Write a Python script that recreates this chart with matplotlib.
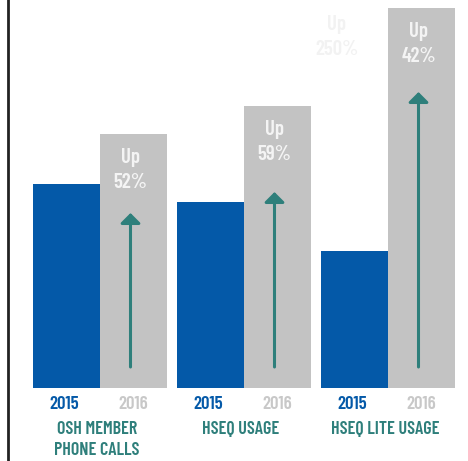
import matplotlib.pyplot as plt

categories = ["OSH MEMBER\nPHONE CALLS", "HSEQ USAGE", "HSEQ LITE USAGE"]
years = ["2015", "2016"]
values_2015 = [204, 186, 137]
values_2016 = [254, 282, 380]
arrow_tops = [175, 196, 296]
changes = ["Up\n52%", "Up\n59%", "Up\n42%"]

BLUE = "#0459A8"
GREY = "#C3C3C3"
TEAL = "#2E7F7B"
FONT = ["Barlow Condensed", "Fjalla One", "Oswald", "Roboto Condensed", "DejaVu Sans"]

fig = plt.figure(figsize=(4.68, 4.61), dpi=100)
ax = fig.add_axes([0, 0, 1, 1])
ax.set_xlim(0, 468)
ax.set_ylim(-73, 388)
ax.axis("off")

w = 67
centers = [100 + 144 * i for i in range(len(categories))]
ax.bar([c - w / 2 for c in centers], values_2015, width=w, color=BLUE)
ax.bar([c + w / 2 for c in centers], values_2016, width=w, color=GREY)

for c, v, top, txt, cat in zip(centers, values_2016, arrow_tops, changes, categories):
    gx = c + w / 2 - 3
    ax.annotate("", xy=(gx, top), xytext=(gx, 21),
                arrowprops=dict(arrowstyle="-|>,head_width=0.6,head_length=0.6",
                                color=TEAL, lw=2.2, shrinkA=0, shrinkB=0))
    ax.text(gx, v - 36, txt, ha="center", va="center", color="#F4F4F4",
            fontsize=15, fontweight="semibold", family=FONT, linespacing=1.4)
    ax.text(c - w / 2 - 2, -16, years[0], ha="center", va="center", color=BLUE,
            fontsize=13.5, fontweight="semibold", family=FONT)
    ax.text(c + w / 2, -16, years[1], ha="center", va="center", color="#C8C8C8",
            fontsize=13.5, fontweight="semibold", family=FONT)
    ax.text(c - 3, -33, cat, ha="center", va="top", color=TEAL,
            fontsize=13, fontweight="semibold", family=FONT, linespacing=1.3)

# faint ghost label in the original
ax.text(337, 351, "Up\n250%", ha="center", va="center", color="#F2F2F2",
        fontsize=15, fontweight="semibold", family=FONT, linespacing=1.4)

ax.axvline(8, color="#222222", lw=2)

fig.savefig("out.png", dpi=100)
